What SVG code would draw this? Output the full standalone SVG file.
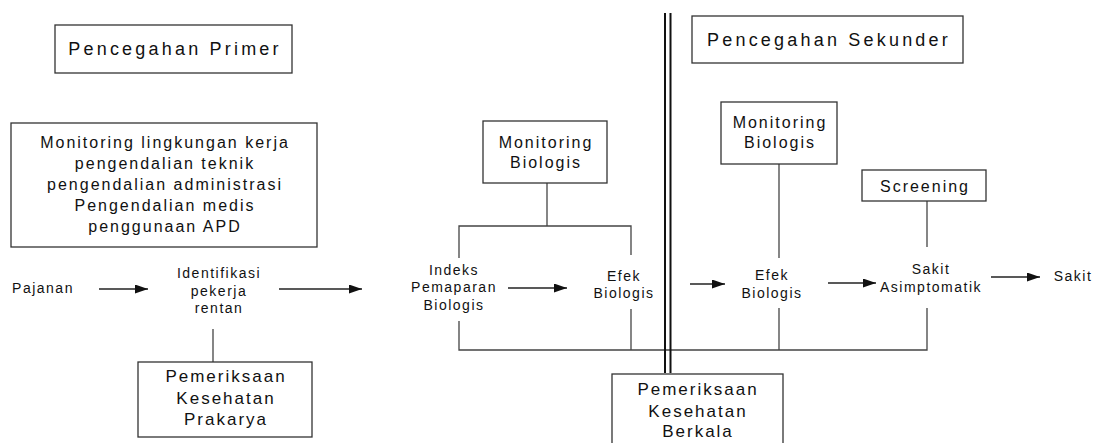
<svg xmlns="http://www.w3.org/2000/svg" width="1100" height="443" viewBox="0 0 1100 443">
<style>
text{font-family:"Liberation Sans",Arial,sans-serif;fill:#111;text-anchor:middle}
.t{font-size:18px;letter-spacing:3.2px}
.m{font-size:16px;letter-spacing:2px}
.p{font-size:17px;letter-spacing:2px}
.s{font-size:14px;letter-spacing:1.5px}
.box{fill:#fff;stroke:#333;stroke-width:1.3}
.ln{fill:none;stroke:#444;stroke-width:1.3}
.arr{fill:none;stroke:#222;stroke-width:1.3;marker-end:url(#ah)}
.dbl{stroke:#111;stroke-width:2}
</style>
<defs>
<marker id="ah" markerUnits="userSpaceOnUse" markerWidth="14" markerHeight="10" refX="13" refY="4.5" orient="auto">
<path d="M0,0 L13,4.5 L0,9 z" fill="#111"/>
</marker>
</defs>
<rect width="1100" height="443" fill="#fff"/>
<g id="connectors">
<line class="arr" x1="99" y1="289" x2="148" y2="289"/>
<line class="arr" x1="279" y1="289" x2="362" y2="289"/>
<line class="ln" x1="213" y1="329" x2="213" y2="362"/>
<line class="ln" x1="547" y1="183" x2="547" y2="226"/>
<polyline class="ln" points="459,258 459,226 631,226 631,255"/>
<polyline class="ln" points="459,321 459,350 927,350 927,308"/>
<line class="ln" x1="631" y1="309" x2="631" y2="350"/>
<line class="ln" x1="779" y1="308" x2="779" y2="350"/>
<line class="ln" x1="779" y1="164" x2="779" y2="258"/>
<line class="ln" x1="927" y1="201" x2="927" y2="247"/>
<line class="arr" x1="508" y1="288" x2="567" y2="288"/>
<line class="arr" x1="690" y1="284" x2="725" y2="284"/>
<line class="arr" x1="828" y1="283" x2="876" y2="283"/>
<line class="arr" x1="991" y1="277" x2="1040" y2="277"/>
<line class="dbl" x1="665" y1="13" x2="665" y2="373"/>
<line class="dbl" x1="670.5" y1="13" x2="670.5" y2="373"/>
</g>
<g id="primer">
<rect class="box" x="55" y="25" width="237" height="48"/>
<text class="t" x="175" y="55">Pencegahan Primer</text>
</g>
<g id="monitoring-lingkungan">
<rect class="box" x="11" y="123" width="306" height="124"/>
<text class="m" x="165" y="148">Monitoring lingkungan kerja</text>
<text class="m" x="165" y="169">pengendalian teknik</text>
<text class="m" x="165" y="190">pengendalian administrasi</text>
<text class="m" x="165" y="211">Pengendalian medis</text>
<text class="m" x="165" y="232">penggunaan APD</text>
</g>
<g id="pajanan">
<text class="s" x="43" y="293">Pajanan</text>
</g>
<g id="identifikasi">
<text class="s" x="219" y="278">Identifikasi</text>
<text class="s" x="219" y="296">pekerja</text>
<text class="s" x="219" y="313">rentan</text>
</g>
<g id="prakarya">
<rect class="box" x="138" y="362" width="174" height="75"/>
<text class="p" x="226" y="382">Pemeriksaan</text>
<text class="p" x="226" y="404">Kesehatan</text>
<text class="p" x="226" y="425">Prakarya</text>
</g>
<g id="monitoring-biologis-1">
<rect class="box" x="483" y="121" width="124" height="62"/>
<text class="m" x="546" y="148">Monitoring</text>
<text class="m" x="546" y="168">Biologis</text>
</g>
<g id="indeks">
<text class="s" x="454" y="275">Indeks</text>
<text class="s" x="454" y="292">Pemaparan</text>
<text class="s" x="454" y="310">Biologis</text>
</g>
<g id="efek-1">
<text class="s" x="624" y="281">Efek</text>
<text class="s" x="624" y="298">Biologis</text>
</g>
<g id="sekunder">
<rect class="box" x="692" y="16" width="271" height="47"/>
<text class="t" x="829" y="46">Pencegahan Sekunder</text>
</g>
<g id="monitoring-biologis-2">
<rect class="box" x="721" y="102" width="116" height="62"/>
<text class="m" x="780" y="128">Monitoring</text>
<text class="m" x="780" y="148">Biologis</text>
</g>
<g id="screening">
<rect class="box" x="862" y="170" width="124" height="31"/>
<text class="m" x="925" y="192">Screening</text>
</g>
<g id="efek-2">
<text class="s" x="772" y="280">Efek</text>
<text class="s" x="772" y="298">Biologis</text>
</g>
<g id="asimptomatik">
<text class="s" x="931" y="274">Sakit</text>
<text class="s" x="931" y="292">Asimptomatik</text>
</g>
<g id="sakit">
<text class="s" x="1073" y="281">Sakit</text>
</g>
<g id="berkala">
<rect class="box" x="612" y="374" width="171" height="80"/>
<text class="p" x="698" y="395">Pemeriksaan</text>
<text class="p" x="698" y="417">Kesehatan</text>
<text class="p" x="698" y="437">Berkala</text>
</g>
</svg>
